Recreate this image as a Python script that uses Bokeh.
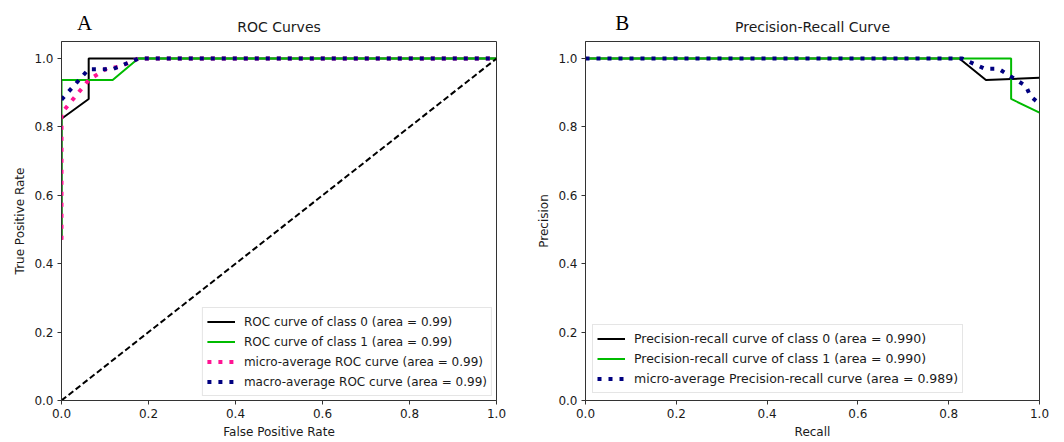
from bokeh.plotting import figure
from bokeh.layouts import row, column
from bokeh.models import Range1d, FixedTicker, PrintfTickFormatter
from bokeh.core.properties import value
from bokeh.embed import file_html
from bokeh.resources import INLINE

# ---------------- data ----------------
ticks = [0.0, 0.2, 0.4, 0.6, 0.8, 1.0]

roc_c0_fpr = [0.0, 0.0, 0.0625, 0.0625, 1.0]
roc_c0_tpr = [0.47, 0.824, 0.882, 1.0, 1.0]
roc_c1_fpr = [0.0, 0.0, 0.1176, 0.1765, 1.0]
roc_c1_tpr = [0.47, 0.9375, 0.9375, 1.0, 1.0]
roc_micro_fpr = [0.0, 0.0, 0.063, 0.105, 0.132, 0.176, 1.0]
roc_micro_tpr = [0.47, 0.84, 0.938, 0.972, 0.975, 1.0, 1.0]
roc_macro_fpr = [0.0, 0.0625, 0.1176, 0.1765, 1.0]
roc_macro_tpr = [0.88, 0.969, 0.969, 1.0, 1.0]
diag_x = [0.0, 1.0]
diag_y = [0.0, 1.0]

pr_c0_recall = [0.0, 0.8235, 0.882, 1.0]
pr_c0_precision = [1.0, 1.0, 0.9375, 0.944]
pr_c1_recall = [0.0, 0.9375, 0.9375, 1.0]
pr_c1_precision = [1.0, 1.0, 0.882, 0.842]
pr_micro_recall = [0.0, 0.83, 0.88, 0.91, 0.97, 0.98, 1.0]
pr_micro_precision = [1.0, 1.0, 0.97, 0.97, 0.92, 0.89, 0.868]

roc_labels = ["ROC curve of class 0 (area = 0.99)",
              "ROC curve of class 1 (area = 0.99)",
              "micro-average ROC curve (area = 0.99)",
              "macro-average ROC curve (area = 0.99)"]
pr_labels = ["Precision-recall curve of class 0 (area = 0.990)",
             "Precision-recall curve of class 1 (area = 0.990)",
             "micro-average Precision-recall curve (area = 0.989)"]
titles = ["ROC Curves", "Precision-Recall Curve"]
panel_letters = ["A", "B"]

GREEN = "#00bb00"
FONT = "DejaVu Sans"
TXT = "#1a1a1a"
HEADER_H = 41


def header(frame_w, left, right, letter, letter_x, title):
    h = figure(frame_width=frame_w, frame_height=HEADER_H, min_border_left=left,
               min_border_right=right, min_border_top=0, min_border_bottom=0,
               x_axis_location=None, y_axis_location=None,
               output_backend="svg", toolbar_location=None)
    h.x_range = Range1d(0, 1.0)
    h.y_range = Range1d(0, HEADER_H)
    h.outline_line_color = None
    h.grid.visible = False
    h.text(x=[letter_x], y=[19], text=[letter], text_font=value("Liberation Serif"),
           text_font_size="21px", text_align="center", text_baseline="alphabetic",
           text_color="black")
    h.text(x=[0.5], y=[15], text=[title], text_font=value(FONT),
           text_font_size="14px", text_align="center", text_baseline="alphabetic",
           text_color=TXT)
    return h


def style(p, xlabel, ylabel):
    p.x_range = Range1d(0, 1.0)
    p.y_range = Range1d(0, 1.05)
    p.grid.visible = False
    p.outline_line_color = "#333333"
    p.outline_line_width = 1
    p.background_fill_color = "white"
    p.border_fill_color = "white"
    for ax in (p.xaxis[0], p.yaxis[0]):
        ax.ticker = FixedTicker(ticks=ticks)
        ax.formatter = PrintfTickFormatter(format="%.1f")
        ax.minor_tick_line_color = None
        ax.major_tick_out = 4
        ax.major_tick_in = 0
        ax.major_tick_line_color = "#333333"
        ax.axis_line_color = "#333333"
        ax.major_label_text_font = FONT
        ax.major_label_text_font_size = "12px"
        ax.major_label_text_color = TXT
        ax.major_label_standoff = 4
        ax.axis_label_text_font = FONT
        ax.axis_label_text_font_size = "12px"
        ax.axis_label_text_font_style = "normal"
        ax.axis_label_text_color = TXT
        ax.axis_label_standoff = 4
    p.xaxis.axis_label = xlabel
    p.yaxis.axis_label = ylabel


def style_legend(p, loc, margin, fs):
    lg = p.legend[0]
    lg.location = loc
    lg.margin = margin
    lg.padding = 4
    lg.spacing = 1
    lg.label_height = 19
    lg.glyph_height = 19
    lg.glyph_width = 28
    lg.label_standoff = 9
    lg.label_text_font = FONT
    lg.label_text_font_size = fs
    lg.label_text_color = TXT
    lg.border_line_color = "#cccccc"
    lg.border_line_width = 1
    lg.background_fill_alpha = 0.85


# ---------------- ROC ----------------
h1 = header(435, 61, 32, panel_letters[0], 0.053, titles[0])
p1 = figure(frame_width=435, frame_height=359, min_border_left=61, min_border_right=32,
            min_border_top=0, min_border_bottom=38,
            output_backend="svg", toolbar_location=None)
style(p1, "False Positive Rate", "True Positive Rate")
p1.line(roc_c0_fpr, roc_c0_tpr, line_color="black", line_width=2, legend_label=roc_labels[0])
p1.line(roc_c1_fpr, roc_c1_tpr, line_color=GREEN, line_width=2, legend_label=roc_labels[1])
p1.line(roc_micro_fpr, roc_micro_tpr, line_color="deeppink", line_width=4, line_dash="4 7",
        legend_label=roc_labels[2])
p1.line(roc_macro_fpr, roc_macro_tpr, line_color="navy", line_width=4, line_dash="4 7",
        legend_label=roc_labels[3])
p1.line(diag_x, diag_y, line_color="black", line_width=2, line_dash="6 3")
style_legend(p1, "bottom_right", 4, "12px")

# ---------------- PR ----------------
h2 = header(454, 57, 10, panel_letters[1], 0.081, titles[1])
p2 = figure(frame_width=454, frame_height=359, min_border_left=57, min_border_right=10,
            min_border_top=0, min_border_bottom=38,
            output_backend="svg", toolbar_location=None)
style(p2, "Recall", "Precision")
p2.line(pr_c0_recall, pr_c0_precision, line_color="black", line_width=2, legend_label=pr_labels[0])
p2.line(pr_c1_recall, pr_c1_precision, line_color=GREEN, line_width=2, legend_label=pr_labels[1])
p2.line(pr_micro_recall, pr_micro_precision, line_color="navy", line_width=4, line_dash="4 7",
        legend_label=pr_labels[2])
style_legend(p2, "bottom_left", 7, "12.5px")

layout = row(column(h1, p1), column(h2, p2))
open("out.html", "w").write(file_html(layout, INLINE))
